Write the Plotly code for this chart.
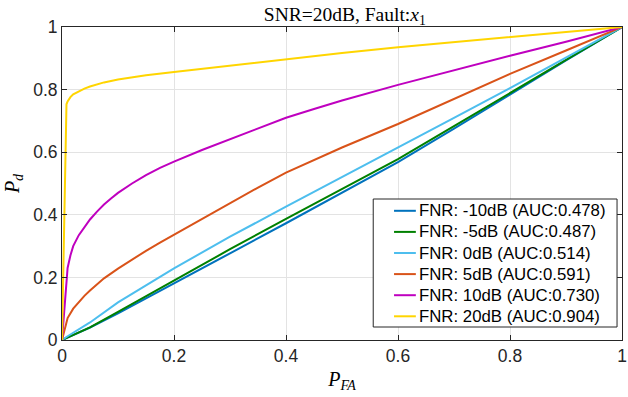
import plotly.graph_objects as go

# ROC curves: false-alarm probability vs detection probability per FNR level
fnr_labels = ["FNR: -10dB (AUC:0.478)", "FNR: -5dB (AUC:0.487)", "FNR: 0dB (AUC:0.514)",
              "FNR: 5dB (AUC:0.591)", "FNR: 10dB (AUC:0.730)", "FNR: 20dB (AUC:0.904)"]
colors = ["#0072BD", "#008000", "#4DBEEE", "#D95319", "#BF00BF", "#FFD500"]

pfa_lin = [0, 0.05, 0.1, 0.2, 0.3, 0.4, 0.5, 0.6, 0.7, 0.8, 0.9, 1.0]
pd_m10 = [0, 0.040, 0.085, 0.180, 0.277, 0.373, 0.470, 0.568, 0.675, 0.785, 0.893, 1.0]
pd_m5 = [0, 0.040, 0.090, 0.190, 0.290, 0.387, 0.482, 0.578, 0.683, 0.790, 0.895, 1.0]

pfa_0 = [0, 0.01, 0.05, 0.1, 0.2, 0.3, 0.4, 0.5, 0.6, 0.7, 0.8, 0.9, 1.0]
pd_0 = [0, 0.012, 0.056, 0.120, 0.229, 0.330, 0.426, 0.520, 0.614, 0.710, 0.805, 0.902, 1.0]

pfa_5 = [0, 0.01, 0.02, 0.03, 0.04, 0.05, 0.075, 0.1, 0.125, 0.15, 0.175, 0.2, 0.25, 0.3, 0.35,
         0.4, 0.5, 0.6, 0.7, 0.8, 0.9, 1.0]
pd_5 = [0, 0.070, 0.100, 0.122, 0.141, 0.158, 0.197, 0.228, 0.257, 0.285, 0.311, 0.336, 0.388,
        0.438, 0.487, 0.535, 0.615, 0.690, 0.770, 0.850, 0.925, 1.0]

pfa_10 = [0, 0.008, 0.01, 0.015, 0.02, 0.03, 0.04, 0.05, 0.0625, 0.075, 0.0875, 0.1, 0.125, 0.15,
          0.175, 0.2, 0.25, 0.3, 0.35, 0.4, 0.45, 0.5, 0.6, 0.7, 0.8, 0.9, 1.0]
pd_10 = [0, 0.210, 0.230, 0.270, 0.300, 0.335, 0.362, 0.385, 0.410, 0.433, 0.452, 0.470, 0.500,
         0.527, 0.550, 0.570, 0.607, 0.642, 0.677, 0.710, 0.738, 0.765, 0.815, 0.862, 0.908, 0.953, 1.0]

pfa_20 = [0, 0.008, 0.01, 0.015, 0.02, 0.03, 0.04, 0.05, 0.075, 0.1, 0.15, 0.2, 0.25, 0.3, 0.4,
          0.5, 0.6, 0.7, 0.8, 0.9, 1.0]
pd_20 = [0, 0.753, 0.762, 0.776, 0.785, 0.795, 0.803, 0.810, 0.823, 0.832, 0.846, 0.856, 0.866,
         0.876, 0.898, 0.917, 0.935, 0.952, 0.968, 0.984, 1.0]

series = [(pfa_lin, pd_m10), (pfa_lin, pd_m5), (pfa_0, pd_0),
          (pfa_5, pd_5), (pfa_10, pd_10), (pfa_20, pd_20)]

ticks = [0, 0.2, 0.4, 0.6, 0.8, 1]
tick_text = ["0", "0.2", "0.4", "0.6", "0.8", "1"]

fig = go.Figure()
for (xs, ys), name, c in zip(series, fnr_labels, colors):
    fig.add_trace(go.Scatter(x=xs, y=ys, mode="lines", name=name,
                             line=dict(color=c, width=2), showlegend=False))

axis_common = dict(
    range=[0, 1], tickvals=ticks, ticktext=tick_text,
    showline=True, linecolor="#262626", linewidth=1, mirror="ticks",
    ticks="inside", ticklen=5, tickcolor="#262626",
    showgrid=True, gridcolor="#E3E3E3", gridwidth=1, zeroline=False,
    ticklabeloverflow="allow",
    tickfont=dict(family="Liberation Sans, Arial", size=17.5, color="#262626"),
)

# Legend box in the lower-right corner, MATLAB style (compact rows)
plot_l, plot_r, plot_t, plot_b = 62, 627, 27, 340
def px_x(v):
    return (v - plot_l) / (plot_r - plot_l)
def px_y(v):
    return (plot_b - v) / (plot_b - plot_t)

shapes = [dict(type="rect", xref="paper", yref="paper",
               x0=px_x(376), x1=px_x(622), y0=px_y(327), y1=px_y(199),
               fillcolor="white", line=dict(color="#262626", width=1), layer="above")]
annotations = []
row0, row_step = 210.8, 21.1
for i, (name, c) in enumerate(zip(fnr_labels, colors)):
    yc = px_y(row0 + i * row_step)
    shapes.append(dict(type="line", xref="paper", yref="paper",
                       x0=px_x(397), x1=px_x(419), y0=yc, y1=yc,
                       line=dict(color=c, width=2), layer="above"))
    annotations.append(dict(xref="paper", yref="paper", x=px_x(420), y=yc,
                            xanchor="left", yanchor="middle", showarrow=False, text=name,
                            font=dict(family="Liberation Sans, Arial", size=16.8, color="black")))

fig.update_layout(
    width=628, height=397,
    margin=dict(l=62, r=1, t=27, b=57),
    paper_bgcolor="white", plot_bgcolor="white",
    title=dict(text="SNR=20dB, Fault:<i>x</i><sub>1</sub>", x=0.549, xanchor="center",
               y=0.965, yanchor="middle",
               font=dict(family="Liberation Serif, Times New Roman", size=19.5, color="black")),
    xaxis=dict(axis_common,
               title=dict(text="<i>P</i><sub><i>FA</i></sub>", standoff=6,
                          font=dict(family="Liberation Serif, Times New Roman", size=20, color="black"))),
    yaxis=dict(axis_common,
               title=dict(text="<i>P</i><sub><i>d</i></sub>", standoff=8,
                          font=dict(family="Liberation Serif, Times New Roman", size=20, color="black"))),
    shapes=shapes,
    annotations=annotations,
    showlegend=False,
)

fig.write_html("out.html")
